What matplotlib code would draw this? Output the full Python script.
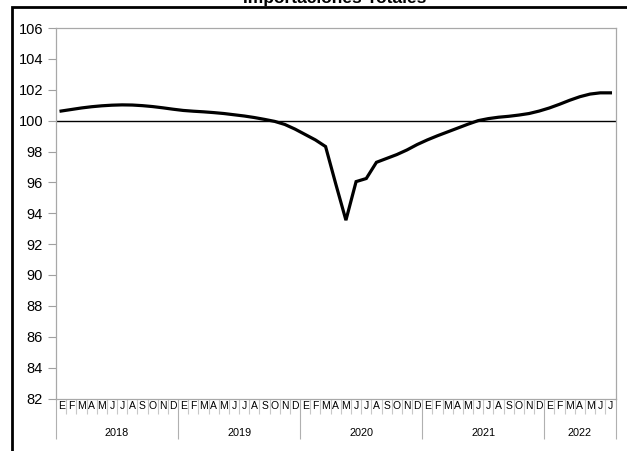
"""Importaciones Totales: indice mensual 2018-2022."""

import matplotlib
matplotlib.use("Agg")
import matplotlib.pyplot as plt
from matplotlib.lines import Line2D

plt.rcParams["font.family"] = ["Liberation Sans", "DejaVu Sans"]

# Data
years = ["2018", "2019", "2020", "2021", "2022"]
months_per_year = [12, 12, 12, 12, 7]
month_letters = ["E", "F", "M", "A", "M", "J", "J", "A", "S", "O", "N", "D"]
values = [
    # 2018
    100.62, 100.72, 100.82, 100.90, 100.96, 101.00,
    101.02, 101.01, 100.97, 100.91, 100.83, 100.74,
    # 2019
    100.66, 100.61, 100.57, 100.52, 100.46, 100.38,
    100.30, 100.20, 100.08, 99.95, 99.75, 99.45,
    # 2020
    99.10, 98.75, 98.32, 95.90, 93.55, 96.05,
    96.25, 97.30, 97.55, 97.80, 98.10, 98.45,
    # 2021
    98.75, 99.02, 99.27, 99.52, 99.77, 100.00,
    100.13, 100.22, 100.28, 100.36, 100.46, 100.62,
    # 2022
    100.82, 101.06, 101.32, 101.55, 101.72, 101.80, 101.80,
]
reference_level = 100
y_ticks = list(range(82, 107, 2))

W, H = 627, 451
fig = plt.figure(figsize=(W / 100, H / 100), dpi=100)

# Plot area in pixel coordinates
left, right, top, bottom = 56, 615.5, 28, 398.5
ax = fig.add_axes([left / W, (H - bottom) / H, (right - left) / W, (bottom - top) / H])

n = len(values)
x = list(range(n))
ax.axhline(reference_level, color="black", lw=1.0, zorder=2)
ax.plot(x, values, color="black", lw=2.3, solid_joinstyle="miter", zorder=3)

ax.set_xlim(-0.5, n - 0.5)
ax.set_ylim(y_ticks[0], y_ticks[-1])
ax.set_yticks(y_ticks)
ax.tick_params(axis="y", direction="out", length=5.8, width=0.8,
               color="#a0a0a0", labelsize=10.5, pad=3.5)

for side in ["left", "right", "top", "bottom"]:
    ax.spines[side].set_color("#a8a8a8")
    ax.spines[side].set_linewidth(0.9)

# Year separators (major ticks) and month separators (minor ticks)
bounds = [-0.5]
for m in months_per_year:
    bounds.append(bounds[-1] + m)
ax.set_xticks(bounds)
ax.set_xticklabels([])
ax.set_xticks([b - 0.5 for b in range(n + 1)], minor=True)
ax.tick_params(axis="x", which="major", direction="out", length=29,
               width=0.8, color="#b0b0b0")
ax.tick_params(axis="x", which="minor", direction="out", length=11,
               width=0.8, color="#c8c8c8")

i = 0
for yr, m in zip(years, months_per_year):
    for k in range(m):
        ax.annotate(month_letters[k], xy=(i + k, 0), xycoords=("data", "axes fraction"),
                    xytext=(0, -5.6), textcoords="offset points",
                    ha="center", va="center", fontsize=7.5)
    ax.annotate(yr, xy=(i + (m - 1) / 2, 0), xycoords=("data", "axes fraction"),
                xytext=(0, -24.5), textcoords="offset points",
                ha="center", va="center", fontsize=7.8)
    i += m

# Outer chart frame: only its left and top sides fall inside the picture
fx, fy = 11.5 / W, 1 - 6.5 / H
fig.add_artist(Line2D([fx, fx, 1.05], [-0.05, fy, fy], transform=fig.transFigure,
                      color="black", lw=2.0, solid_joinstyle="miter"))

fig.text(335 / W, 1 - 3.5 / H, "Importaciones Totales", ha="center",
         va="baseline", fontsize=12.5, fontweight="bold")

fig.savefig("out.png", dpi=100)
